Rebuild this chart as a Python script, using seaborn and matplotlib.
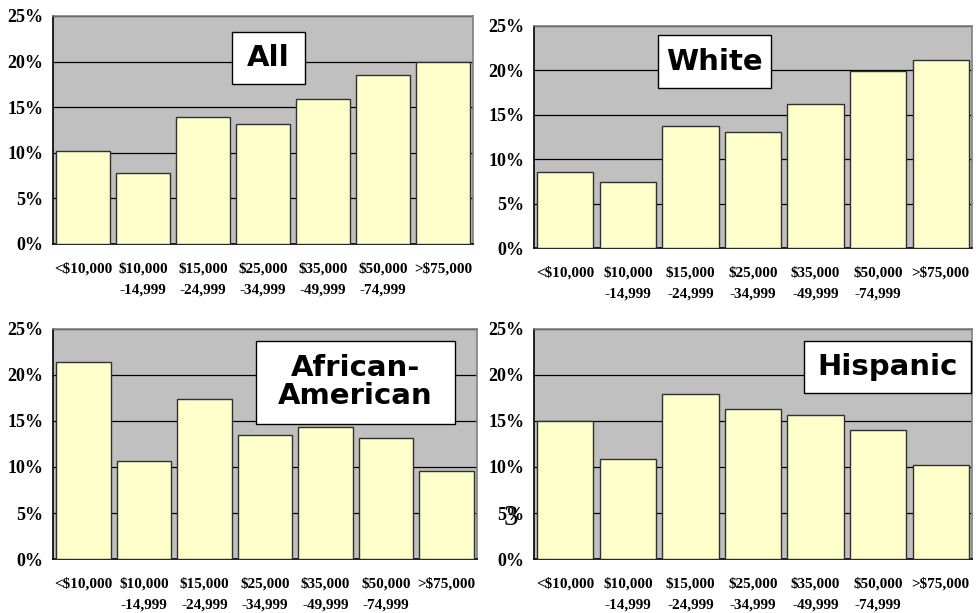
import matplotlib
matplotlib.use('Agg')
import matplotlib.pyplot as plt
import matplotlib.patches as mpatches
from matplotlib.ticker import FixedLocator, FuncFormatter
import seaborn as sns

# ── Données ─────────────────────────────────────────────────────────
income_labels = ['<$10,000', '$10,000\n-14,999', '$15,000\n-24,999', '$25,000\n-34,999',
                 '$35,000\n-49,999', '$50,000\n-74,999', '>$75,000']

pct_all      = [10.2, 7.8, 13.9, 13.2, 15.9, 18.5, 20.0]
pct_white    = [8.6, 7.4, 13.7, 13.1, 16.2, 19.9, 21.2]
pct_african  = [21.4, 10.6, 17.4, 13.5, 14.3, 13.2, 9.6]
pct_hispanic = [15.0, 10.9, 17.9, 16.3, 15.7, 14.0, 10.2]

group_titles = ['All', 'White', 'African-\nAmerican', 'Hispanic']

sns.set_style('white')
plt.rcParams.update({'text.color': 'black', 'xtick.color': 'black',
                     'ytick.color': 'black', 'axes.labelcolor': 'black'})

W, H = 976, 613
fig = plt.figure(figsize=(W / 100, H / 100), dpi=100)

# panneaux en pixels : gauche, haut, droite, bas
panel_px = [(53, 16, 473, 244), (534, 26, 972, 248),
            (53, 329, 477, 559), (534, 329, 972, 559)]
# boîtes de titre en pixels : gauche, haut, droite, bas
box_px = [(232, 32, 305, 84), (658, 35, 771, 88),
          (256, 341, 455, 424), (804, 341, 971, 393)]

serif = ['Liberation Serif', 'DejaVu Serif']


def draw_panel(rect, values, title, box):
    l, t, r, b = rect
    ax = fig.add_axes([l / W, 1 - b / H, (r - l) / W, (b - t) / H])
    ax.set_facecolor('#C0C0C0')
    sns.barplot(x=list(range(len(values))), y=values, ax=ax, color='#FFFFCC',
                saturation=1, edgecolor='#303030', linewidth=1.0, width=0.9, zorder=3)
    ax.set_xlim(-0.5, len(values) - 0.5)
    ax.set_ylim(0, 25)
    ax.set_xlabel('')
    ax.set_ylabel('')

    ax.yaxis.set_major_locator(FixedLocator([0, 5, 10, 15, 20, 25]))
    ax.yaxis.set_major_formatter(FuncFormatter(lambda v, p: f'{v:.0f}%'))
    ax.grid(axis='y', color='black', linewidth=0.9, zorder=1)
    ax.set_axisbelow(True)

    ax.set_xticks(range(len(values)))
    ax.set_xticklabels(income_labels, fontfamily=serif, fontweight='bold',
                       fontsize=11, linespacing=1.75, color='black')
    ax.set_xticks([i - 0.5 for i in range(len(values) + 1)], minor=True)
    ax.tick_params(axis='x', which='major', length=0, pad=13)
    ax.tick_params(axis='x', which='minor', length=5, width=1, color='black', direction='out')
    ax.tick_params(axis='y', length=5, width=1, color='black', direction='out', pad=2)
    for lab in ax.get_yticklabels():
        lab.set_fontfamily(serif)
        lab.set_fontweight('bold')
        lab.set_fontsize(13)
        lab.set_color('black')

    for side in ['left', 'bottom']:
        ax.spines[side].set_color('black')
        ax.spines[side].set_linewidth(1.2)
    for side in ['top', 'right']:
        ax.spines[side].set_color('#808080')
        ax.spines[side].set_linewidth(1.2)

    # boîte du titre
    bl, bt, br, bb = box
    x0 = (bl - l) / (r - l)
    y0 = (b - bb) / (b - t)
    bw = (br - bl) / (r - l)
    bh = (bb - bt) / (b - t)
    ax.add_patch(mpatches.Rectangle((x0, y0), bw, bh, transform=ax.transAxes,
                                    facecolor='white', edgecolor='black',
                                    linewidth=1.0, zorder=10, clip_on=False))
    ax.text(x0 + bw / 2, y0 + bh / 2, title, transform=ax.transAxes,
            ha='center', va='center', fontsize=21, fontweight='bold',
            fontfamily=['DejaVu Sans'], linespacing=1.0, color='black', zorder=11)
    return ax


all_values = [pct_all, pct_white, pct_african, pct_hispanic]
for rect, vals, title, box in zip(panel_px, all_values, group_titles, box_px):
    draw_panel(rect, vals, title, box)

# numéro de page
fig.text(511 / W, 1 - 518 / H, '3', ha='center', va='center',
         fontsize=21, fontfamily=serif, color='black')

fig.savefig('out.png', dpi=100)
